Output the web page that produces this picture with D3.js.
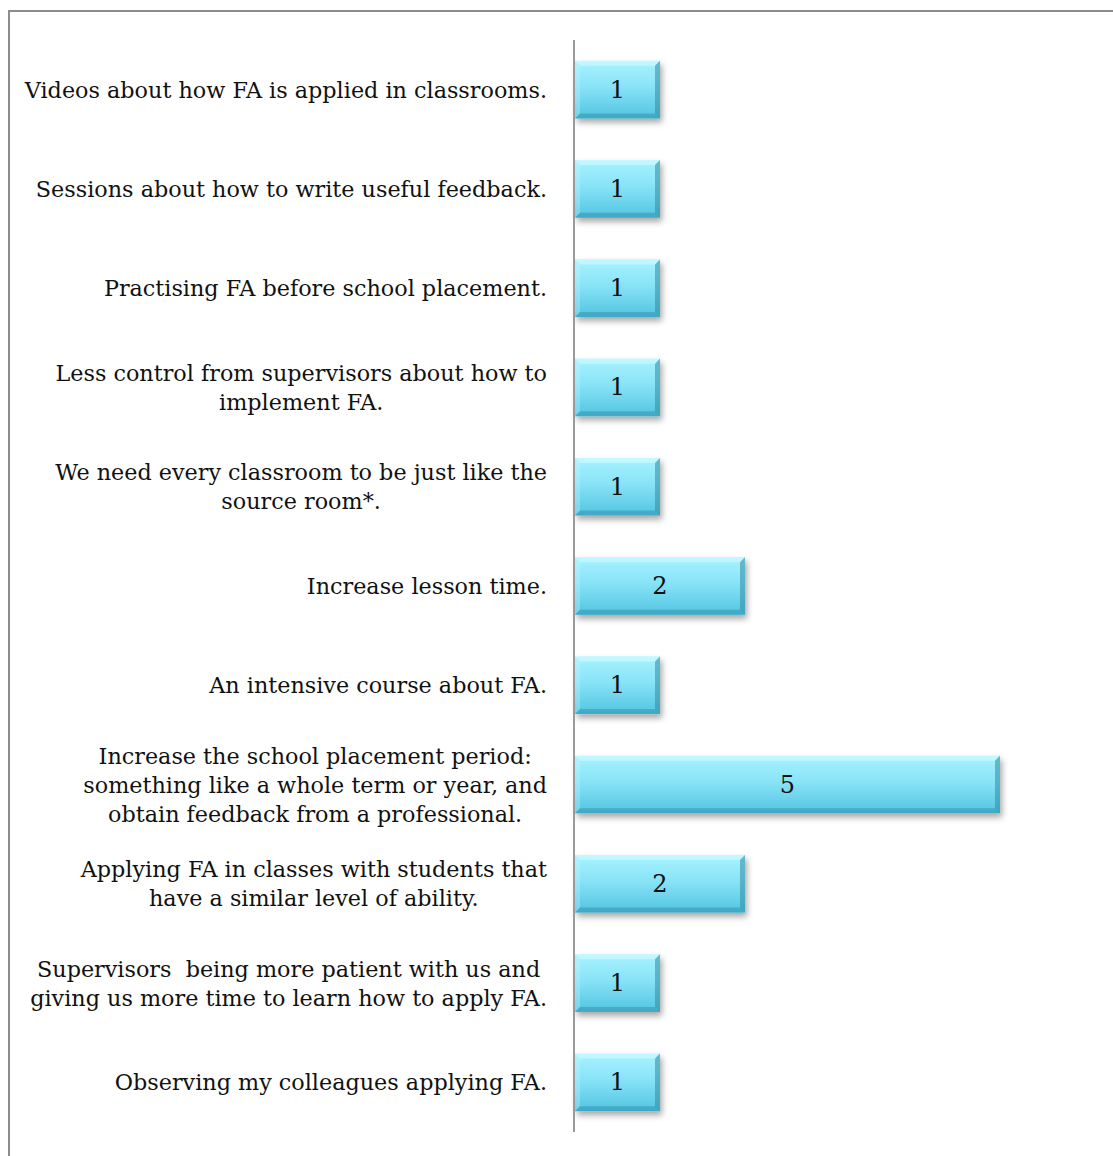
<!DOCTYPE html>
<html>
<head>
<meta charset="utf-8">
<script src="https://cdn.jsdelivr.net/npm/d3@7"></script>
<style>
  html, body { margin: 0; padding: 0; background: #fff; }
  svg { display: block; }
</style>
</head>
<body>
<div id="chart"></div>
<script>
// Suggested improvements for learning formative assessment (FA), number of responses
const categories = [
  "Videos about how FA is applied in classrooms.",
  "Sessions about how to write useful feedback.",
  "Practising FA before school placement.",
  "Less control from supervisors about how to\nimplement FA.",
  "We need every classroom to be just like the\nsource room*.",
  "Increase lesson time.",
  "An intensive course about FA.",
  "Increase the school placement period:\nsomething like a whole term or year, and\nobtain feedback from a professional.",
  "Applying FA in classes with students that\nhave a similar level of ability.",
  "Supervisors  being more patient with us and\ngiving us more time to learn how to apply FA.",
  "Observing my colleagues applying FA."
];
const counts = [1, 1, 1, 1, 1, 2, 1, 5, 2, 1, 1];

const W = 1113, H = 1156;
const axisX = 574;
const svg = d3.select("#chart").append("svg")
  .attr("width", W).attr("height", H);

// frame of the chart area
svg.append("rect")
  .attr("x", 9).attr("y", 11)
  .attr("width", W + 20).attr("height", H + 20)
  .attr("fill", "none").attr("stroke", "#8c8c8c").attr("stroke-width", 2);

const defs = svg.append("defs");
const grad = defs.append("linearGradient")
  .attr("id", "barFill").attr("x1", 0).attr("y1", 0).attr("x2", 0).attr("y2", 1);
grad.append("stop").attr("offset", "0%").attr("stop-color", "#a8f3ff");
grad.append("stop").attr("offset", "45%").attr("stop-color", "#88e3f7");
grad.append("stop").attr("offset", "100%").attr("stop-color", "#52c4e1");

const shadow = defs.append("filter").attr("id", "shadow")
  .attr("x", "-10%").attr("y", "-10%").attr("width", "130%").attr("height", "140%");
shadow.append("feDropShadow")
  .attr("dx", 2).attr("dy", 4).attr("stdDeviation", 3)
  .attr("flood-color", "#000").attr("flood-opacity", 0.35);

const x = d3.scaleLinear().domain([0, 5]).range([axisX + 1, 1000]);
const y = d3.scaleBand().domain(categories).range([40, 1132])
  .paddingInner(0.42).paddingOuter(0.21);

const bevel = 5;
const bars = svg.append("g").selectAll("g.bar")
  .data(categories.map((c, i) => ({ c, v: counts[i] })))
  .join("g").attr("class", "bar");

bars.each(function (d) {
  const g = d3.select(this);
  const x0 = x(0), x1 = x(d.v), y0 = y(d.c), y1 = y0 + y.bandwidth();
  const b = bevel;
  g.append("rect")
    .attr("x", x0).attr("y", y0)
    .attr("width", x1 - x0).attr("height", y1 - y0)
    .attr("fill", "url(#barFill)")
    .attr("filter", "url(#shadow)");
  // bevelled edges
  const faces = [
    { pts: [[x0, y0], [x1, y0], [x1 - b, y0 + b], [x0 + b, y0 + b]], fill: "#d4fbff", op: 0.6 },
    { pts: [[x0, y0], [x0 + b, y0 + b], [x0 + b, y1 - b], [x0, y1]], fill: "#c8f6ff", op: 0.3 },
    { pts: [[x1, y0], [x1, y1], [x1 - b, y1 - b], [x1 - b, y0 + b]], fill: "#2f8aa3", op: 0.55 },
    { pts: [[x0, y1], [x0 + b, y1 - b], [x1 - b, y1 - b], [x1, y1]], fill: "#2f8aa3", op: 0.45 }
  ];
  faces.forEach(f => g.append("polygon")
    .attr("points", f.pts.map(p => p.join(",")).join(" "))
    .attr("fill", f.fill).attr("fill-opacity", f.op));
  g.append("text")
    .attr("x", (x0 + x1) / 2).attr("y", (y0 + y1) / 2)
    .attr("text-anchor", "middle").attr("dominant-baseline", "central")
    .attr("font-family", "'DejaVu Serif', serif").attr("font-size", 24)
    .attr("fill", "#111").text(d.v);
});

// vertical category axis
svg.append("line")
  .attr("x1", axisX).attr("x2", axisX).attr("y1", 40).attr("y2", 1132)
  .attr("stroke", "#9a9a9a").attr("stroke-width", 2);

// category labels: wrapped lines centred within a right-aligned block
const labelRight = 547, lineH = 29, fontSize = 22.3;
const labels = svg.append("g")
  .attr("font-family", "'DejaVu Serif', serif").attr("font-size", fontSize).attr("fill", "#111");

categories.forEach(c => {
  const lines = c.split("\n");
  const cy = y(c) + y.bandwidth() / 2;
  const grp = labels.append("g");
  const texts = lines.map((ln, i) => grp.append("text")
    .attr("y", cy + (i - (lines.length - 1) / 2) * lineH)
    .attr("dominant-baseline", "central")
    .attr("text-anchor", "middle")
    .attr("xml:space", "preserve")
    .text(ln));
  const widths = texts.map(t => t.node().getComputedTextLength());
  const maxW = d3.max(widths);
  texts.forEach(t => t.attr("x", labelRight - maxW / 2));
});
</script>
</body>
</html>
